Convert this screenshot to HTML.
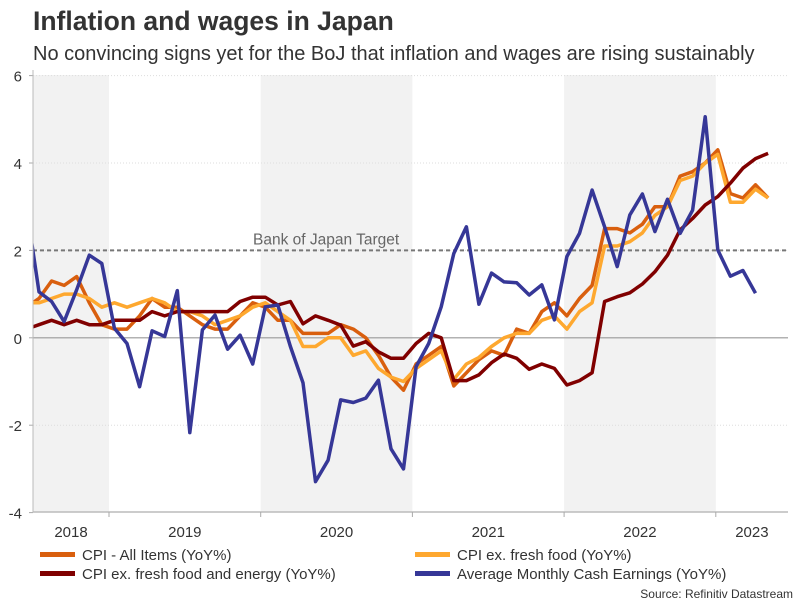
<!DOCTYPE html>
<html><head><meta charset="utf-8"><style>
body{margin:0;background:#fff;font-family:"Liberation Sans",sans-serif;}
svg{display:block}
</style></head><body>
<svg width="805" height="604" viewBox="0 0 805 604" xmlns="http://www.w3.org/2000/svg">
<text x="33" y="30" font-size="26.5" font-weight="bold" fill="#333">Inflation and wages in Japan</text>
<text x="33" y="60" font-size="20" fill="#333">No convincing signs yet for the BoJ that inflation and wages are rising sustainably</text>
<g id="bands"></g>
<g id="grid"></g>
<g id="series" clip-path="url(#clip)"></g>
<defs><clipPath id="clip"><rect x="33" y="70" width="755" height="445"/></clipPath></defs>
<g id="axes"></g>
<g id="legend"></g>
<text x="793" y="598" font-size="12" fill="#333" text-anchor="end">Source: Refinitiv Datastream</text>
</svg>
<script>
// Months Jun 2018 (index -1) .. May 2023 (index 58)
const cpiAll = [0.7,0.9,1.3,1.2,1.4,0.8,0.3,0.2,0.2,0.5,0.9,0.7,0.7,0.5,0.3,0.2,0.2,0.5,0.8,0.7,0.4,0.4,0.1,0.1,0.1,0.3,0.2,0.0,-0.4,-0.9,-1.2,-0.6,-0.4,-0.2,-1.1,-0.8,-0.5,-0.3,-0.4,0.2,0.1,0.6,0.8,0.5,0.9,1.2,2.5,2.5,2.4,2.6,3.0,3.0,3.7,3.8,4.0,4.3,3.3,3.2,3.5,3.2];
const cpiCore = [0.8,0.8,0.9,1.0,1.0,0.9,0.7,0.8,0.7,0.8,0.9,0.8,0.6,0.6,0.5,0.3,0.4,0.5,0.7,0.8,0.6,0.4,-0.2,-0.2,0.0,0.0,-0.4,-0.3,-0.7,-0.9,-1.0,-0.7,-0.5,-0.3,-0.95,-0.6,-0.45,-0.2,0.0,0.1,0.1,0.4,0.5,0.2,0.6,0.8,2.1,2.1,2.2,2.4,2.8,3.0,3.6,3.7,4.0,4.2,3.1,3.1,3.4,3.2];
const cpiCoreCore = [0.2,0.3,0.4,0.3,0.4,0.3,0.3,0.4,0.4,0.4,0.6,0.5,0.6,0.6,0.6,0.6,0.6,0.83,0.93,0.93,0.75,0.83,0.32,0.5,0.4,0.29,-0.19,-0.09,-0.32,-0.47,-0.47,-0.13,0.1,0.0,-0.98,-0.98,-0.85,-0.57,-0.37,-0.47,-0.72,-0.6,-0.7,-1.08,-0.98,-0.8,0.83,0.94,1.03,1.23,1.51,1.89,2.47,2.73,3.04,3.23,3.54,3.88,4.1,4.22];
const wages = [3.0,1.05,0.83,0.37,1.1,1.89,1.70,0.22,-0.13,-1.12,0.16,0.03,1.08,-2.17,0.18,0.52,-0.26,0.06,-0.6,0.71,0.75,-0.2,-1.03,-3.29,-2.8,-1.42,-1.48,-1.38,-0.97,-2.54,-3.0,-0.66,-0.13,0.71,1.93,2.54,0.77,1.48,1.28,1.26,0.98,1.21,0.41,1.86,2.39,3.38,2.54,1.63,2.81,3.29,2.43,3.17,2.39,2.92,5.06,2.01,1.41,1.54,1.02];
const yTicks = [6,4,2,0,-2,-4];
const years = ["2018","2019","2020","2021","2022","2023"];
const target = 2;

const NS="http://www.w3.org/2000/svg";
const X0=33,X1=788,Y0=75,Y1=512;
function y(v){return 337.8-(v)*43.7;}
function x(i){return 39+12.57*i;}           // i = months since Jul 2018
function yearX(k){return 109+151.7*(k-1);}   // Jan 1 of years[k]
function mk(tag,attrs,parent){const e=document.createElementNS(NS,tag);for(const k in attrs)e.setAttribute(k,attrs[k]);parent.appendChild(e);return e;}
const bands=document.getElementById('bands'),grid=document.getElementById('grid'),series=document.getElementById('series'),axes=document.getElementById('axes'),legend=document.getElementById('legend');

[0,2,4].forEach(k=>{
  const a=Math.max(X0,yearX(k)),b=Math.min(X1,yearX(k+1));
  const r=mk('rect',{x:a,y:Y0,width:b-a,height:Y1-Y0,fill:'#f2f2f2'},bands);
  
  
});
yTicks.forEach(v=>{
  const yy=y(v);
  if(v===0){const l=mk('line',{x1:X0,x2:X1,y1:yy,y2:yy,stroke:'#999','stroke-width':1.2},grid);}
  else if(v!==-4){const l=mk('line',{x1:X0,x2:X1,y1:yy,y2:yy,stroke:'#ddd','stroke-width':1,'stroke-dasharray':'1,2'},grid);}
  const t=mk('text',{x:22,y:yy+6,'font-size':15,fill:'#333','text-anchor':'end'},axes);t.textContent=v;
  
  
  mk('line',{x1:29,x2:X0,y1:yy,y2:yy,stroke:'#aaa'},axes);
});
mk('line',{x1:X0,x2:X0,y1:Y0-5,y2:Y1,stroke:'#bbb'},axes);
mk('line',{x1:X0,x2:X1,y1:Y1,y2:Y1,stroke:'#bbb','stroke-width':1.5},axes);
years.forEach((yr,k)=>{
  const a=Math.max(X0,yearX(k)),b=Math.min(X1,yearX(k+1));
  if(k>0)mk('line',{x1:yearX(k),x2:yearX(k),y1:Y1,y2:Y1+5,stroke:'#aaa'},axes);
  const t=mk('text',{x:(a+b)/2,y:537,'font-size':15,fill:'#333','text-anchor':'middle'},axes);t.textContent=yr;
  
  
});
const tl=mk('line',{x1:X0,x2:X1,y1:y(target),y2:y(target),stroke:'#777','stroke-width':2,'stroke-dasharray':'4,3'},grid);


const tt=mk('text',{x:253,y:y(target)-6,'font-size':15.5,fill:'#666'},grid);tt.textContent='Bank of Japan Target';



function line(arr,color,name){
  const pts=arr.map((v,j)=>x(j-1).toFixed(1)+','+y(v).toFixed(1)).join(' ');
  const p=mk('polyline',{points:pts,fill:'none',stroke:color,'stroke-width':3.5,'stroke-linejoin':'round'},series);
  
  
}
line(cpiAll,'#d95f0e','cpi-all-items-line');
line(cpiCore,'#fea82f','cpi-ex-fresh-food-line');
line(cpiCoreCore,'#800000','cpi-ex-fresh-food-energy-line');
line(wages,'#363797','cash-earnings-line');

const leg=[["CPI - All Items (YoY%)",'#d95f0e',40,555],["CPI ex. fresh food (YoY%)",'#fea82f',415,555],["CPI ex. fresh food and energy (YoY%)",'#800000',40,574],["Average Monthly Cash Earnings (YoY%)",'#363797',415,574]];
leg.forEach(d=>{
  const g=mk('g',{},legend);
  
  
  mk('rect',{x:d[2],y:d[3]-3,width:35,height:5,fill:d[1]},g);
  const t=mk('text',{x:d[2]+42,y:d[3]+5,'font-size':15,fill:'#333'},g);t.textContent=d[0];
});
</script>
</body></html>
